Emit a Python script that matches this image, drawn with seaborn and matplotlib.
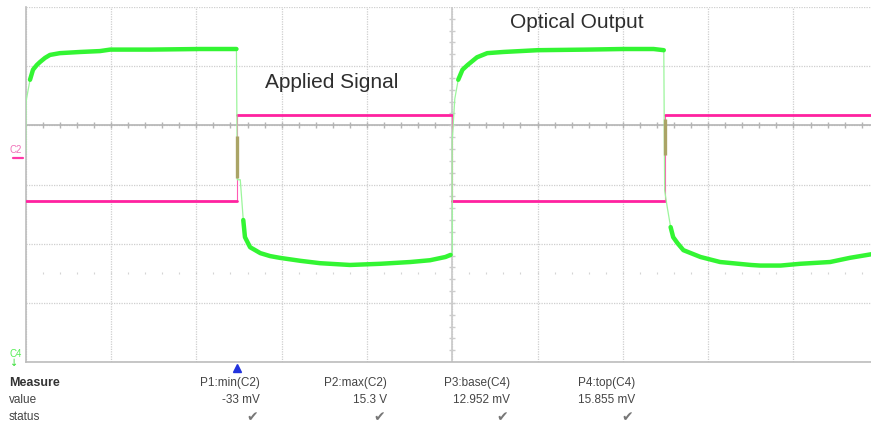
import numpy as np
import pandas as pd
import matplotlib
matplotlib.use("Agg")
import matplotlib.pyplot as plt
import seaborn as sns

# ---- data (x and y in screen divisions) ----
pink_edges = [0.0, 2.48, 5.0, 7.49, 9.95]
pink_levels = [2.72, 4.17, 2.72, 4.17]

green_x = [0.0, 0.0, 0.003, 0.05, 0.085, 0.13, 0.167, 0.226, 0.284, 0.40, 0.64, 0.87, 0.99, 1.46, 2.04, 2.47,
           2.48, 2.515, 2.55, 2.57, 2.63, 2.69, 2.75, 2.865, 2.98, 3.22, 3.45, 3.80, 4.16, 4.51, 4.74, 4.92, 4.98,
           5.0, 5.0, 5.03, 5.07, 5.12, 5.18, 5.29, 5.41, 5.60, 6.0, 6.58, 7.0, 7.36, 7.48,
           7.49, 7.52, 7.56, 7.59, 7.64, 7.71, 7.91, 8.14, 8.5, 8.61, 8.85, 9.08, 9.43, 9.66, 9.95]
green_y = [3.53, 3.99, 4.40, 4.77, 4.94, 5.02, 5.07, 5.14, 5.19, 5.22, 5.24, 5.255, 5.28, 5.28, 5.29, 5.29,
           3.08, 3.08, 2.40, 2.11, 1.94, 1.89, 1.84, 1.79, 1.76, 1.71, 1.67, 1.64, 1.66, 1.69, 1.72, 1.775, 1.81,
           1.81, 3.75, 4.45, 4.77, 4.94, 5.02, 5.15, 5.22, 5.24, 5.27, 5.28, 5.29, 5.29, 5.27,
           2.90, 2.62, 2.28, 2.11, 2.01, 1.89, 1.775, 1.69, 1.64, 1.63, 1.63, 1.66, 1.69, 1.76, 1.83]
# index ranges of the slowly varying (noisy, drawn thick) parts of the green trace
green_slow = [(3, 15), (18, 32), (36, 46), (49, 61)]

olive_x = [2.48, 7.49]
olive_lo = [3.11, 3.50]
olive_hi = [3.82, 4.11]

measure_names = ["P1:min(C2)", "P2:max(C2)", "P3:base(C4)", "P4:top(C4)"]
measure_values = ["-33 mV", "15.3 V", "12.952 mV", "15.855 mV"]

# ---- figure ----
W, H = 871, 426
fig = plt.figure(figsize=(W / 100, H / 100), dpi=100)
sns.set_style("white")
plt.rcParams["font.family"] = ["Liberation Sans", "DejaVu Sans"]

ax = fig.add_axes([25.75 / W, 64 / H, 853 / W, 355 / H])
ax.set_xlim(0, 10)
ax.set_ylim(0, 6)
ax.set_xticks(range(0, 11))
ax.set_yticks(range(0, 7))
ax.set_xticklabels([])
ax.set_yticklabels([])
ax.tick_params(length=0)
ax.grid(True, color="#cfcfcf", lw=0.9, linestyle=(0, (1, 1)))
for s in ["top", "right"]:
    ax.spines[s].set_visible(False)
for s in ["left", "bottom"]:
    ax.spines[s].set_color("#bcbcbc")
    ax.spines[s].set_linewidth(1.2)

# centre axes with minor ticks
ax.axhline(4, color="#b4b4b4", lw=1.2, zorder=1)
ax.axvline(5, color="#c8c8c8", lw=1.2, zorder=1)
tx = np.arange(0.2, 10, 0.2)
ax.plot(tx, np.full_like(tx, 4), ls="none", marker="|", ms=4, mew=1.0, color="#b4b4b4", zorder=1)
ax.plot(tx, np.full_like(tx, 1.5), ls="none", marker="|", ms=2, mew=0.8, color="#d4d4d4", zorder=1)
ty = np.arange(0.2, 6, 0.2)
ax.plot(np.full_like(ty, 5), ty, ls="none", marker="_", ms=4, mew=1.0, color="#cccccc", zorder=1)

# pink applied signal: thin verticals + thick levels
px, py = [], []
for i, lv in enumerate(pink_levels):
    px += [pink_edges[i], pink_edges[i + 1]]
    py += [lv, lv]
pink_df = pd.DataFrame({"x": px, "y": py})
sns.lineplot(data=pink_df, x="x", y="y", sort=False, estimator=None, color="#ff5ab4", lw=0.8, ax=ax, zorder=3)
for i, lv in enumerate(pink_levels):
    seg = pd.DataFrame({"x": [pink_edges[i], pink_edges[i + 1]], "y": [lv, lv]})
    sns.lineplot(data=seg, x="x", y="y", sort=False, estimator=None, color="#ff22a0", lw=2.0, ax=ax, zorder=4)

# green optical output
green_df = pd.DataFrame({"x": green_x, "y": green_y})
sns.lineplot(data=green_df, x="x", y="y", sort=False, estimator=None, color="#9cf59c", lw=0.9, ax=ax, zorder=5)
for a, b in green_slow:
    d = green_df.iloc[a:b + 1]
    sns.lineplot(data=d, x="x", y="y", sort=False, estimator=None, color="#33f533", lw=3.2, ax=ax, zorder=6)

# olive overlap segments
for x, lo, hi in zip(olive_x, olive_lo, olive_hi):
    ax.plot([x, x], [lo, hi], color="#aaa466", lw=2.4, zorder=7, solid_capstyle="butt")

ax.set_xlabel("")
ax.set_ylabel("")

# annotations
txtc = "#2e2e2e"
fig.text(577 / W, 1 - 22 / H, "Optical Output", ha="center", va="center", fontsize=15, color=txtc)
fig.text(332 / W, 1 - 83 / H, "Applied Signal", ha="center", va="center", fontsize=15, color=txtc)

# channel markers
fig.text(16 / W, 1 - 150 / H, "C2", ha="center", va="center", fontsize=7, color="#f070b8")
fig.add_artist(plt.Line2D([13 / W, 23 / W], [1 - 158 / H, 1 - 158 / H], color="#ff3aa8", lw=1.6))
fig.text(16 / W, 1 - 354 / H, "C4", ha="center", va="center", fontsize=7, color="#55ee55")
fig.text(14 / W, 1 - 363 / H, "↓", ha="center", va="center", fontsize=7, color="#33dd33",
         family=["DejaVu Sans"])
fig.add_artist(plt.Line2D([237 / W], [1 - 368 / H], marker="^", ms=6, color="#2233dd", ls="none"))

# measurement table
fig.text(9 / W, 1 - 383 / H, "Measure", ha="left", va="center", fontsize=9, fontweight="bold", color="#333333")
fig.text(9 / W, 1 - 400 / H, "value", ha="left", va="center", fontsize=8.5, color="#444444")
fig.text(9 / W, 1 - 417 / H, "status", ha="left", va="center", fontsize=8.5, color="#444444")
col_right = [260, 387, 510, 635]
for xr, nm, vl in zip(col_right, measure_names, measure_values):
    fig.text(xr / W, 1 - 383 / H, nm, ha="right", va="center", fontsize=8.5, color="#444444")
    fig.text(xr / W, 1 - 400 / H, vl, ha="right", va="center", fontsize=8.5, color="#444444")
    fig.text((xr - 2) / W, 1 - 417 / H, "✔", ha="right", va="center", fontsize=10, color="#777777",
             family=["DejaVu Sans"])

fig.savefig("out.png", dpi=100)
